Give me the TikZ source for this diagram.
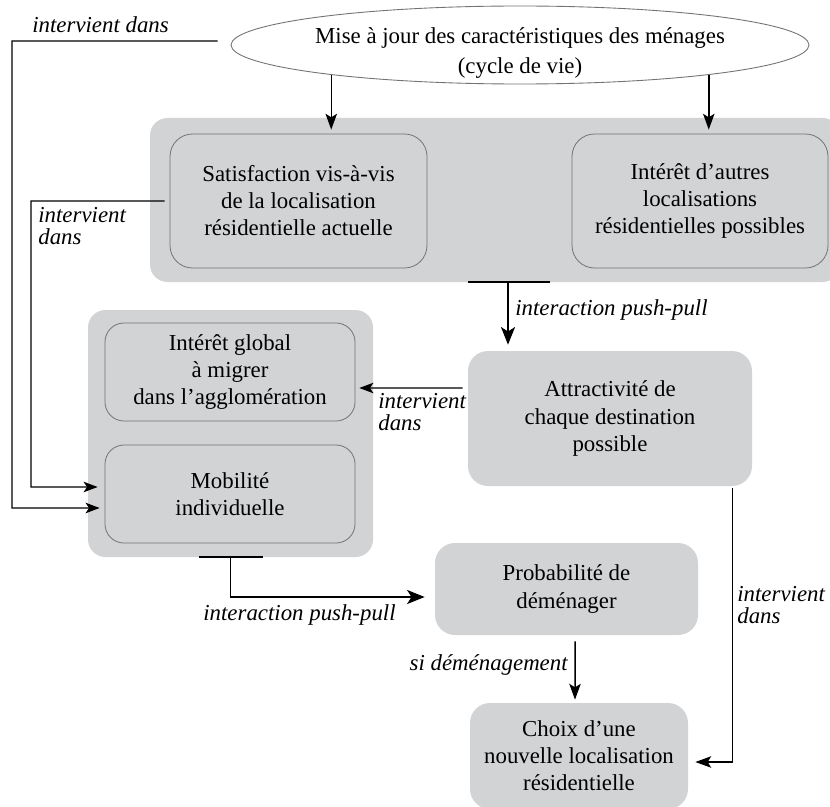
\documentclass[tikz,border=0pt]{standalone}
\usepackage{fontspec}
\setmainfont{Liberation Serif}
\usepackage{tikz}
\usetikzlibrary{positioning, shapes.geometric, arrows.meta}

\definecolor{boxgray}{RGB}{209,211,212}
\definecolor{edgegray}{RGB}{115,115,115}

\tikzset{
    txt/.style={font=\fontsize{13}{15.4}\selectfont, align=center, inner sep=0pt},
    grp/.style={fill=boxgray, rounded corners=0.35cm},
    inbox/.style={txt, fill=boxgray, draw=edgegray, line width=0.45pt, rounded corners=0.45cm},
    blk/.style={txt, fill=boxgray, rounded corners=0.4cm},
    lbl/.style={font=\fontsize{13}{12.5}\selectfont\itshape, align=left, inner sep=0pt},
    thinline/.style={line width=0.6pt, -{Stealth[length=8pt, width=6pt, inset=2pt]}},
    arr/.style={line width=0.85pt, -{Stealth[length=9pt, width=6.5pt, inset=2pt]}},
    pusharr/.style={line width=1.1pt, -{Stealth[length=10pt, width=8pt, inset=2.5pt]}},
    bar/.style={line width=1.3pt}
}

\begin{document}
\begin{tikzpicture}
        \useasboundingbox (0,0) rectangle (16.6,-16.14);
        \clip (0,0) rectangle (16.6,-16.14);

        \node[ellipse, draw=edgegray, line width=0.5pt, fill=white, inner sep=0pt,
              minimum width=11.56cm, minimum height=1.56cm,
              label={[txt, font=\fontsize{13}{17}\selectfont, yshift=-0.16cm]center:{Mise à jour des caractéristiques des ménages\\(cycle de vie)}}]
              (maj) at (10.4, -0.9) {};

        \node[grp, minimum width=13.8cm, minimum height=3.28cm] (topgrp) at (9.9, -4.0) {};
        \node[inbox, minimum width=5.14cm, minimum height=2.68cm] (sat) at (5.97, -4.02)
              {Satisfaction vis-à-vis\\de la localisation\\résidentielle actuelle};
        \node[inbox, minimum width=5.12cm, minimum height=2.68cm] (autres) at (14.0, -4.02)
              {Intérêt d’autres\\localisations\\résidentielles possibles};

        \node[grp, minimum width=5.7cm, minimum height=4.94cm] (leftgrp) at (4.61, -8.67) {};
        \node[inbox, rounded corners=0.38cm, minimum width=5.0cm, minimum height=1.96cm] (glob) at (4.6, -7.44)
              {Intérêt global\\à migrer\\dans l’agglomération};
        \node[inbox, rounded corners=0.38cm, minimum width=5.0cm, minimum height=1.96cm] (mob) at (4.6, -9.88)
              {Mobilité\\individuelle};

        \node[blk, minimum width=5.68cm, minimum height=2.7cm] (attr) at (12.2, -8.37)
              {Attractivité de\\chaque destination\\possible};
        \node[blk, minimum width=5.26cm, minimum height=1.84cm] (proba) at (11.33, -11.78)
              {Probabilité de\\déménager};
        \node[blk, minimum width=4.36cm, minimum height=2.12cm] (choix) at (11.58, -15.12)
              {Choix d’une\\nouvelle localisation\\résidentielle};

        % mise a jour -> cases du haut
        \draw[arr, shorten >=0.08cm] (maj.189.2) -- (maj.189.2 |- sat.north);
        \draw[arr, shorten >=0.08cm] (maj.351.3) -- (maj.351.3 |- autres.north);

        % liens "intervient dans"
        \draw[thinline] ([shift={(-0.26,0.08)}]maj.west) -- (0.24,-0.82) |- ([shift={(-0.1,-0.28)}]mob.west);
        \draw[thinline] ([xshift=-0.1cm]sat.west) -| (0.62,-9.74) -- ([shift={(-0.14,0.14)}]mob.west);
        \draw[thinline] ([shift={(-0.1,0.61)}]attr.west) -- ([shift={(0.08,-0.32)}]glob.east);
        \draw[arr] ([shift={(-0.4,-0.04)}]attr.south east) |- ([shift={(0.14,-0.12)}]choix.east);

        % interactions push-pull
        \coordinate (pp) at ([xshift=0.26cm]topgrp.south);
        \draw[bar] ([xshift=-0.54cm]topgrp.south) -- ([xshift=1.1cm]topgrp.south);
        \draw[pusharr, shorten >=0.12cm] (pp) -- (pp |- attr.north);
        \draw[bar] ([xshift=-0.64cm]leftgrp.south) -- ([xshift=0.64cm]leftgrp.south);
        \draw[pusharr] (leftgrp.south) |- ([shift={(-0.2,-0.16)}]proba.west);

        \draw[arr] ([shift={(0.17,-0.12)}]proba.south) -- ([shift={(-0.08,0.06)}]choix.north);

        \node[lbl, anchor=west] (l1) at (0.64,-0.5) {intervient dans};
        \node[lbl, anchor=west] (l2) at (0.76,-4.52) {intervient\\dans};
        \node[lbl, anchor=west] (l3) at (7.56,-8.25) {intervient\\dans};
        \node[lbl, anchor=west] (l4) at (14.74,-12.1) {intervient\\dans};
        \node[lbl, anchor=west] (l5) at (10.3,-6.2) {interaction push-pull};
        \node[lbl, anchor=west] (l6) at (4.06,-12.3) {interaction push-pull};
        \node[lbl, anchor=east] (l7) at (11.36,-13.3) {si déménagement};
    \end{tikzpicture}
\end{document}
